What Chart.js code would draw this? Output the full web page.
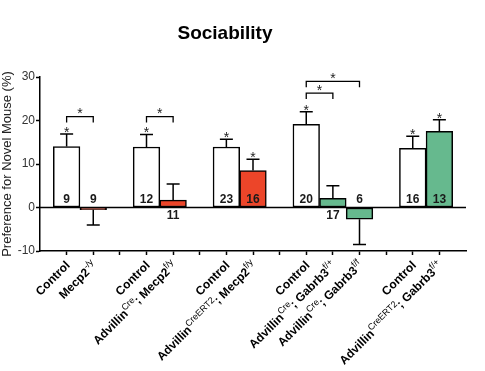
<!DOCTYPE html>
<html>
<head>
<meta charset="utf-8">
<script src="https://cdn.jsdelivr.net/npm/chart.js@4.4.1/dist/chart.umd.min.js"></script>
<style>
  html, body { margin: 0; padding: 0; background: #ffffff; }
  #wrap { width: 485px; height: 371px; }
</style>
</head>
<body>
<div id="wrap"><canvas id="c" width="485" height="371"></canvas></div>
<script>
// ---- data ----
const chartTitle = 'Sociability';
const yAxisTitle = 'Preference for Novel Mouse (%)';
const categories = ['', 'Control', 'Mecp2^{-/y}', '', 'Control', 'Advillin^{Cre}; Mecp2^{f/y}', '',
  'Control', 'Advillin^{CreERT2}; Mecp2^{f/y}', '', 'Control', 'Advillin^{Cre}; Gabrb3^{f/+}',
  'Advillin^{Cre}; Gabrb3^{f/f}', '', 'Control', 'Advillin^{CreERT2}; Gabrb3^{f/+}', ''];
const genotype = ['', 'control', 'mecp2', '', 'control', 'mecp2', '', 'control', 'mecp2', '',
  'control', 'gabrb3', 'gabrb3', '', 'control', 'gabrb3', ''];
const values = [null, 14.0, -0.5, null, 13.9, 1.7, null, 13.9, 8.5, null, 19.1, 2.1, -2.7, null, 13.6, 17.5, null];
const errors = [null, 2.9, 3.5, null, 2.9, 3.7, null, 1.8, 2.6, null, 2.9, 2.9, 5.8, null, 2.8, 2.7, null];
const counts = [null, 9, 9, null, 12, 11, null, 23, 16, null, 20, 17, 6, null, 16, 13, null];
const yTicks = [-10, 0, 10, 20, 30];
const starred = [1, 4, 7, 8, 10, 14, 15];
const bracketFrom = [1, 4, 10, 10];
const bracketTo = [2, 5, 11, 12];
const bracketLevel = [20.9, 20.9, 26.3, 29.0];

// ---- styles ----
const colorMap = { control: '#ffffff', mecp2: '#EC4529', gabrb3: '#66B98E' };
const FONT = '"Liberation Sans", Arial, Helvetica, sans-serif';

function parseRich(s) {
  const parts = [];
  const re = /\^\{([^}]*)\}/g;
  let last = 0, m;
  while ((m = re.exec(s)) !== null) {
    if (m.index > last) parts.push({ t: s.slice(last, m.index), sup: false });
    parts.push({ t: m[1], sup: true });
    last = re.lastIndex;
  }
  if (last < s.length) parts.push({ t: s.slice(last), sup: false });
  return parts;
}

const annotations = {
  id: 'annotations',
  afterDatasetsDraw(chart) {
    const ctx = chart.ctx;
    const xs = chart.scales.x, ys = chart.scales.y;
    const area = chart.chartArea;
    ctx.save();
    // zero line
    ctx.strokeStyle = '#000';
    ctx.lineWidth = 1.5;
    ctx.beginPath();
    ctx.moveTo(area.left, ys.getPixelForValue(0));
    ctx.lineTo(area.right, ys.getPixelForValue(0));
    ctx.stroke();
    // error bars
    const errTop = [];
    values.forEach((v, i) => {
      if (v === null) return;
      const x = xs.getPixelForValue(i);
      const end = v >= 0 ? v + errors[i] : v - errors[i];
      const py0 = ys.getPixelForValue(v);
      const py1 = ys.getPixelForValue(end);
      errTop[i] = py1;
      ctx.beginPath();
      ctx.moveTo(x, py0); ctx.lineTo(x, py1);
      ctx.moveTo(x - 6.5, py1); ctx.lineTo(x + 6.5, py1);
      ctx.stroke();
    });
    // counts
    ctx.fillStyle = '#1a1a1a';
    ctx.font = 'bold 12px ' + FONT;
    ctx.textAlign = 'center';
    ctx.textBaseline = 'middle';
    const y0 = ys.getPixelForValue(0);
    counts.forEach((n, i) => {
      if (n === null) return;
      const x = xs.getPixelForValue(i);
      const v = values[i];
      const below = v > 0 && v < 3;
      ctx.fillText(String(n), x, below ? y0 + 8.5 : y0 - 7.5);
    });
    // stars
    ctx.font = '14px ' + FONT;
    ctx.textBaseline = 'alphabetic';
    ctx.fillStyle = '#222';
    starred.forEach(i => {
      ctx.fillText('*', xs.getPixelForValue(i), errTop[i] - 5 + 8);
    });
    // brackets
    ctx.lineWidth = 1.3;
    ctx.strokeStyle = '#000';
    bracketFrom.forEach((a, k) => {
      const b = bracketTo[k];
      const xa = xs.getPixelForValue(a), xb = xs.getPixelForValue(b);
      const py = ys.getPixelForValue(bracketLevel[k]);
      ctx.beginPath();
      ctx.moveTo(xa, py + 6); ctx.lineTo(xa, py); ctx.lineTo(xb, py); ctx.lineTo(xb, py + 6);
      ctx.stroke();
      ctx.fillText('*', (xa + xb) / 2, py - 6.5 + 8);
    });
    // title
    ctx.fillStyle = '#000';
    ctx.font = 'bold 19px ' + FONT;
    ctx.textAlign = 'center';
    ctx.fillText(chartTitle, 225, 38.5);
    // rotated category labels
    const axisY = area.bottom;
    categories.forEach((lab, i) => {
      if (!lab) return;
      const parts = parseRich(lab);
      const fMain = 'bold 12px ' + FONT;
      const fSup = '9px ' + FONT;
      let w = 0;
      parts.forEach(p => { ctx.font = p.sup ? fSup : fMain; p.w = ctx.measureText(p.t).width; w += p.w; });
      ctx.save();
      ctx.translate(xs.getPixelForValue(i) + 4, axisY + 15);
      ctx.rotate(-Math.PI / 4);
      ctx.textAlign = 'left';
      ctx.textBaseline = 'alphabetic';
      ctx.fillStyle = '#000';
      let cx = -w;
      parts.forEach(p => {
        ctx.font = p.sup ? fSup : fMain;
        ctx.fillText(p.t, cx, p.sup ? -5 : 0);
        cx += p.w;
      });
      ctx.restore();
    });
    ctx.restore();
  }
};

new Chart(document.getElementById('c'), {
  type: 'bar',
  data: {
    labels: categories,
    datasets: [{
      data: values,
      backgroundColor: genotype.map(g => colorMap[g] || 'transparent'),
      borderColor: '#000',
      borderWidth: 1.5,
      borderSkipped: false,
      categoryPercentage: 1,
      barPercentage: 1
    }]
  },
  options: {
    responsive: false,
    animation: false,
    devicePixelRatio: 1,
    layout: { padding: { top: 77, right: 19, left: 0, bottom: 0 } },
    plugins: { legend: { display: false }, tooltip: { enabled: false }, title: { display: false } },
    scales: {
      x: {
        type: 'category',
        offset: false,
        ticks: { display: false },
        grid: {
          offset: false,
          drawOnChartArea: false,
          drawTicks: true,
          tickLength: 4,
          tickWidth: 1.5,
          tickColor: c => (c.index === 0 || c.index === categories.length - 1) ? 'rgba(0,0,0,0)' : '#000'
        },
        border: { display: true, color: '#000', width: 1.5 },
        afterFit: s => { s.height = 120; }
      },
      y: {
        min: yTicks[0],
        max: yTicks[yTicks.length - 1],
        afterBuildTicks: s => { s.ticks = yTicks.map(v => ({ value: v })); },
        ticks: { color: '#333', font: { family: FONT, size: 12 }, padding: 1 },
        grid: { drawOnChartArea: false, drawTicks: true, tickLength: 4, tickWidth: 1.5, tickColor: '#000' },
        border: { display: true, color: '#000', width: 1.5 },
        title: { display: true, text: yAxisTitle, color: '#222', font: { family: FONT, size: 13 }, padding: { top: 0, bottom: 0 } },
        afterFit: s => { s.width = 40; }
      }
    }
  },
  plugins: [annotations]
});
</script>
</body>
</html>
